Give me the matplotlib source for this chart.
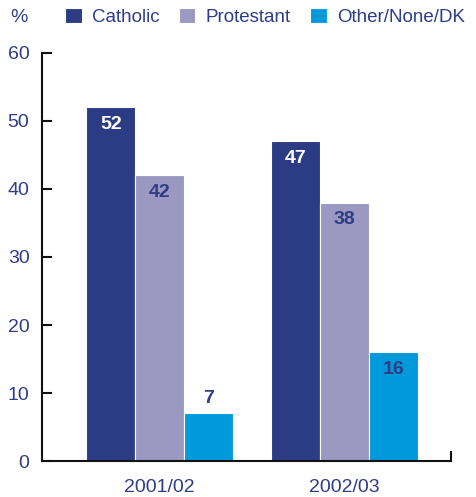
import matplotlib
matplotlib.use("Agg")
import matplotlib.pyplot as plt
import numpy as np

plt.rcParams["font.family"] = ["Liberation Sans", "DejaVu Sans"]

years = ["2001/02", "2002/03"]
series = ["Catholic", "Protestant", "Other/None/DK"]
catholic = [52, 47]
protestant = [42, 38]
other = [7, 16]
colors = ["#2b3c84", "#9b98c2", "#0099d9"]
navy = "#2e3d86"

fig = plt.figure(figsize=(4.76, 4.97), dpi=100)
ax = fig.add_axes([0.0882, 0.0724, 0.8593, 0.821])

x = np.arange(len(years))
w = 0.265
values = [catholic, protestant, other]
for i, (vals, c, name) in enumerate(zip(values, colors, series)):
    ax.bar(x + (i - 1) * w, vals, width=w, color=c, edgecolor="white",
           linewidth=0.8, label=name, zorder=2)

# value labels
for i, vals in enumerate(values):
    for j, v in enumerate(vals):
        xc = x[j] + (i - 1) * w
        if v < 10:
            ax.text(xc, v + 2.2, str(v), ha="center", va="center",
                    fontsize=14, fontweight="bold", color=navy)
        else:
            col = "white" if i == 0 else navy
            ax.text(xc, v - 2.5, str(v), ha="center", va="center",
                    fontsize=14, fontweight="bold", color=col)

ax.set_xlim(-0.638, 1.578)
ax.set_ylim(0, 60)
ax.set_yticks(range(0, 61, 10))
ax.set_xticks(x)
ax.set_xticklabels(years)

ax.spines["top"].set_visible(False)
ax.spines["right"].set_bounds(0, 1.3)
for s in ["left", "bottom", "right"]:
    ax.spines[s].set_linewidth(1.5)
    ax.spines[s].set_color("#111111")

ax.tick_params(axis="y", direction="in", length=7, width=1.5, pad=9,
               labelsize=14, colors="#111111")
ax.tick_params(axis="y", labelcolor=navy)
ax.tick_params(axis="x", length=0, pad=13, labelsize=14, labelcolor=navy)

fig.text(10 / 476, 1 - 17 / 497, "%", fontsize=14, color=navy,
         ha="left", va="center")
leg = fig.legend(loc="center left", bbox_to_anchor=(65 / 476, 1 - 17 / 497),
                 ncol=3, frameon=False, fontsize=13.5, handlelength=0.9,
                 handleheight=0.9, handletextpad=0.55, columnspacing=1.0,
                 borderaxespad=0, borderpad=0)
for t in leg.get_texts():
    t.set_color(navy)

fig.savefig("out.png", dpi=100)
